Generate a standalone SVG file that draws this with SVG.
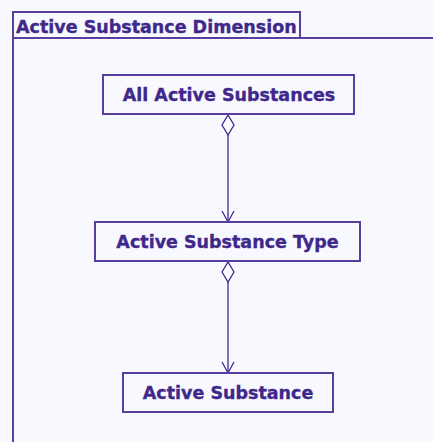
<svg xmlns="http://www.w3.org/2000/svg" width="433" height="442" viewBox="0 0 433 442">
<style>
.bg{fill:#f8f8ff}
.frame{fill:none;stroke:#5a3e9e;stroke-width:2}
.node{fill:#f8f8ff;stroke:#5a3e9e;stroke-width:2}
.lbl{font-family:"DejaVu Sans",Verdana,sans-serif;font-weight:bold;font-size:17.5px;fill:#40288a;stroke:#40288a;stroke-width:0.35}
.conn{fill:none;stroke:#40288a;stroke-width:1.3}
.dia{fill:#f8f8ff;stroke:#40288a;stroke-width:1.3}
</style>
<rect class="bg" x="0" y="0" width="433" height="442"/>
<g id="frame">
<path class="frame" d="M13,442 V12 H300 V38 H13 M300,38 H433"/>
<text class="lbl" x="16" y="33">Active Substance Dimension</text>
</g>
<g id="connectors">
<line class="conn" x1="228" y1="135" x2="228" y2="222"/>
<path class="conn" d="M222,211 L228,222 L234,211"/>
<path class="dia" d="M228,115 L234,125 L228,135 L222,125 Z"/>
<line class="conn" x1="228" y1="282" x2="228" y2="373"/>
<path class="conn" d="M222,362 L228,373 L234,362"/>
<path class="dia" d="M228,262 L234,272 L228,282 L222,272 Z"/>
</g>
<g id="all-active-substances">
<rect class="node" x="103" y="75" width="251" height="39"/>
<text class="lbl" x="229" y="101" text-anchor="middle">All Active Substances</text>
</g>
<g id="active-substance-type">
<rect class="node" x="95" y="222" width="265" height="39"/>
<text class="lbl" x="227.5" y="248" text-anchor="middle">Active Substance Type</text>
</g>
<g id="active-substance">
<rect class="node" x="123" y="373" width="210" height="39"/>
<text class="lbl" x="228" y="399" text-anchor="middle">Active Substance</text>
</g>
</svg>
